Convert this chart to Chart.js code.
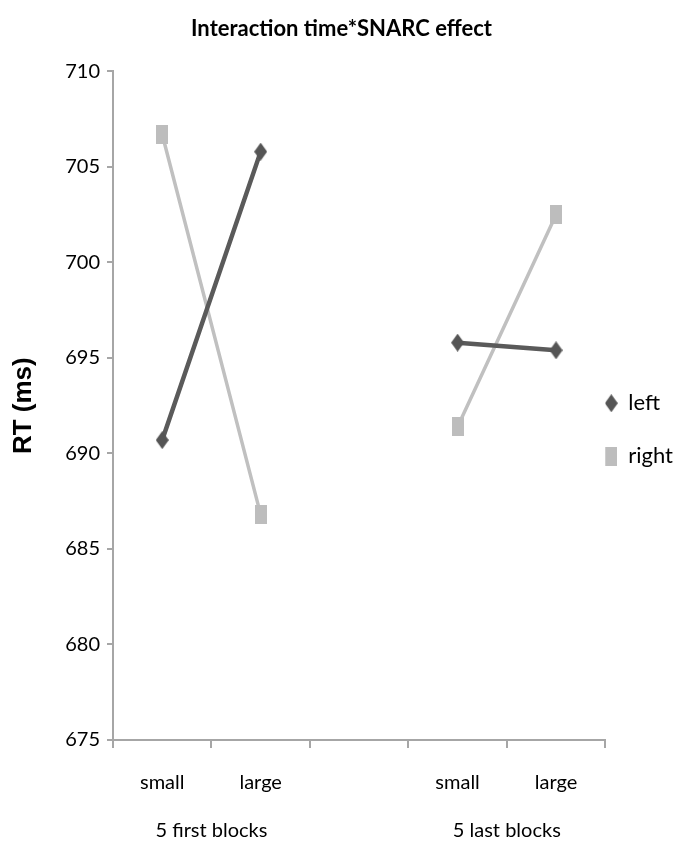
<!DOCTYPE html>
<html>
<head>
<meta charset="utf-8">
<script src="https://cdn.jsdelivr.net/npm/chart.js@4.4.1/dist/chart.umd.min.js"></script>
<style>
  html, body { margin: 0; padding: 0; background: #fff; }
  #wrap { width: 681px; height: 850px; }
</style>
</head>
<body>
<div id="wrap"><canvas id="rt-chart"></canvas></div>
<script>
const categories = ['small', 'large', '', 'small', 'large'];
const groupLabels = ['5 first blocks', '5 last blocks'];
const groupPositions = [0.5, 3.5];
const leftRT = [690.7, 705.8, null, 695.8, 695.4];
const rightRT = [706.7, 686.8, null, 691.4, 702.5];
const yTicks = [675, 680, 685, 690, 695, 700, 705, 710];

Chart.defaults.font.family = "Lato, 'Noto Sans', sans-serif";
Chart.defaults.color = '#000';

// marker images (the picture's markers are a bit taller than wide)
function marker(w, h, color, diamond) {
  const c = document.createElement('canvas');
  c.width = w; c.height = h;
  const g = c.getContext('2d');
  g.fillStyle = color;
  if (diamond) {
    g.beginPath();
    g.moveTo(w / 2, 0); g.lineTo(w, h / 2); g.lineTo(w / 2, h); g.lineTo(0, h / 2);
    g.closePath(); g.fill();
  } else {
    g.fillRect(0, 0, w, h);
  }
  return c;
}
const diamondImg = marker(13, 18, '#555555', true);
const squareImg = marker(12, 19, '#bdbdbd', false);

const ctx = document.getElementById('rt-chart');
const config = {
  type: 'line',
  data: {
    labels: categories,
    datasets: [
      {
        label: 'left',
        data: leftRT,
        borderColor: '#5a5a5a',
        backgroundColor: '#555555',
        borderWidth: 4.5,
        pointStyle: diamondImg,
        spanGaps: false,
      },
      {
        label: 'right',
        data: rightRT,
        borderColor: '#c0c0c0',
        backgroundColor: '#bdbdbd',
        borderWidth: 3.5,
        pointStyle: squareImg,
        spanGaps: false,
      },
    ],
  },
  options: {
    responsive: true,
    maintainAspectRatio: false,
    animation: false,
    layout: { padding: { left: 0, right: -2, bottom: 0 } },
    plugins: {
      title: {
        display: true,
        text: 'Interaction time*SNARC effect',
        font: { size: 22, weight: 'bold' },
        padding: { top: 16, bottom: 29 },
      },
      legend: {
        position: 'right',
        padding: 0,
        // empty title only pushes the two entries down a little
        title: { display: true, text: '', padding: { top: 26, bottom: 0 } },
        labels: {
          usePointStyle: true,
          boxWidth: 12,
          boxHeight: 12,
          padding: 0,
          font: { size: 22, lineHeight: 53 / 22 },
          generateLabels: function(chart) {
            const items = Chart.defaults.plugins.legend.labels.generateLabels(chart);
            return items.map(it => Object.assign(it, { text: [it.text] }));
          },
        },
      },
      tooltip: { enabled: false },
    },
    scales: {
      x: {
        type: 'category',
        offset: true,
        grid: {
          offset: true,
          drawOnChartArea: false,
          tickLength: 8,
          color: '#a6a6a6',
          lineWidth: 2,
        },
        border: { color: '#a6a6a6', width: 2 },
        ticks: { font: { size: 20 }, padding: 23, autoSkip: false, maxRotation: 0 },
        afterFit: function(scale) { scale.height = 52; },
      },
      x2: {
        type: 'linear',
        position: 'bottom',
        min: -0.5,
        max: 4.5,
        grid: { display: false },
        border: { display: false },
        afterBuildTicks: function(scale) {
          scale.ticks = groupPositions.map(v => ({ value: v }));
        },
        ticks: {
          font: { size: 20 },
          padding: 19,
          maxRotation: 0,
          callback: function(value) {
            const i = groupPositions.indexOf(value);
            return i >= 0 ? groupLabels[i] : '';
          },
        },
        afterFit: function(scale) { scale.height = 58; },
      },
      y: {
        min: 675,
        max: 710,
        afterBuildTicks: function(scale) {
          scale.ticks = yTicks.map(v => ({ value: v }));
        },
        grid: {
          drawOnChartArea: false,
          tickLength: 6,
          color: '#a6a6a6',
          lineWidth: 2,
        },
        border: { color: '#a6a6a6', width: 2 },
        ticks: { font: { size: 20 }, padding: 7 },
        title: {
          display: true,
          text: 'RT (ms)',
          font: { family: "'Liberation Sans', Arial, sans-serif", size: 26, weight: 'bold' },
          padding: { top: 8, bottom: 0 },
        },
        afterFit: function(scale) { scale.width = 113; },
      },
    },
  },
};
// render
const rtChart = new Chart(ctx, config);
</script>
</body>
</html>
